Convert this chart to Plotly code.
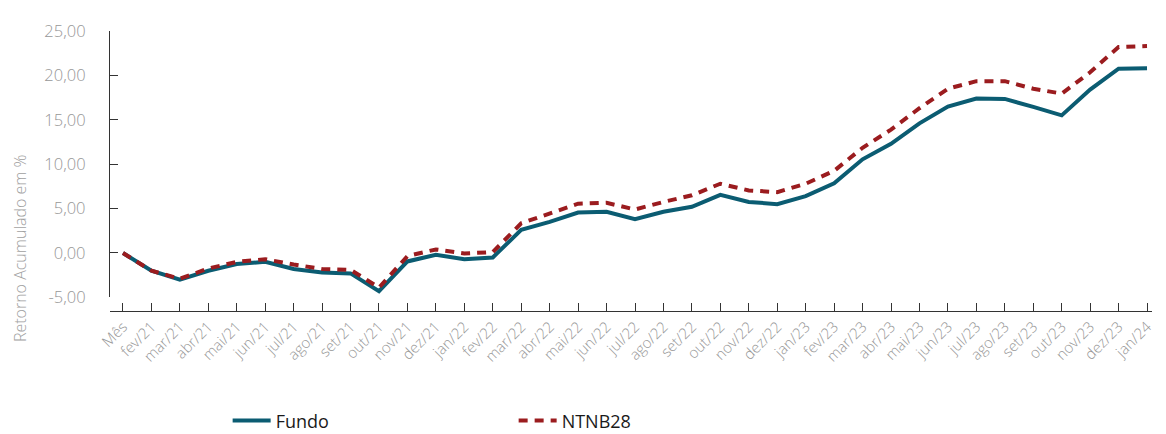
import plotly.graph_objects as go

categories = ["Mês",
    "fev/21", "mar/21", "abr/21", "mai/21", "jun/21", "jul/21", "ago/21", "set/21", "out/21", "nov/21", "dez/21",
    "jan/22", "fev/22", "mar/22", "abr/22", "mai/22", "jun/22", "jul/22", "ago/22", "set/22", "out/22", "nov/22", "dez/22",
    "jan/23", "fev/23", "mar/23", "abr/23", "mai/23", "jun/23", "jul/23", "ago/23", "set/23", "out/23", "nov/23", "dez/23",
    "jan/24"]

fundo = [0.0,
    -2.0, -3.0, -2.0, -1.25, -1.0, -1.8, -2.2, -2.3, -4.3, -0.95, -0.2,
    -0.7, -0.5, 2.6, 3.5, 4.55, 4.65, 3.8, 4.65, 5.2, 6.55, 5.75, 5.5,
    6.4, 7.85, 10.55, 12.3, 14.6, 16.5, 17.4, 17.35, 16.45, 15.5, 18.4, 20.75,
    20.8]

ntnb28 = [0.0,
    -2.0, -2.9, -1.75, -1.0, -0.7, -1.3, -1.8, -1.9, -3.9, -0.35, 0.4,
    -0.05, 0.1, 3.35, 4.45, 5.55, 5.65, 4.9, 5.75, 6.5, 7.8, 7.05, 6.85,
    7.8, 9.25, 11.85, 13.9, 16.3, 18.5, 19.35, 19.35, 18.5, 17.95, 20.35, 23.2,
    23.3]

y_ticks = [-5, 0, 5, 10, 15, 20, 25]
y_ticktext = ["-5,00", "0,00", "5,00", "10,00", "15,00", "20,00", "25,00"]

FONT = "Open Sans"
GRAY = "#979797"

fig = go.Figure()
fig.add_trace(go.Scatter(
    x=categories, y=fundo, name="Fundo", mode="lines",
    line=dict(color="#0b5c72", width=4),
))
fig.add_trace(go.Scatter(
    x=categories, y=ntnb28, name="NTNB28", mode="lines",
    line=dict(color="#9b1c1f", width=4, dash="9px,7px"),
))

# page body has an 8px margin: figure shifted accordingly; extra height below
# keeps the legend well inside the figure so margins are not auto-expanded
fig.update_layout(
    width=1158, height=520,
    margin=dict(l=102, r=11, t=15, b=217),
    paper_bgcolor="white", plot_bgcolor="white",
    font=dict(family=FONT, color=GRAY, size=16),
    showlegend=True,
    legend=dict(
        orientation="h", x=0.1129, xanchor="left",
        y=-0.3924, yanchor="middle",
        font=dict(family=FONT, size=18, color="#1a1a1a"),
        entrywidth=233, itemwidth=38, bgcolor="rgba(0,0,0,0)",
    ),
    xaxis=dict(
        type="category", range=[-0.456, 36.175],
        anchor="free", position=0,
        showline=True, linecolor="#333333", linewidth=1.3,
        ticks="inside", ticklen=8, tickcolor="#333333", tickwidth=1.3,
        tickangle=-45, tickfont=dict(family=FONT, size=15, color=GRAY, weight=300),
        showgrid=False, zeroline=False,
    ),
    yaxis=dict(
        domain=[0.0486, 1], range=[-5, 25],
        tickvals=y_ticks, ticktext=y_ticktext,
        showline=True, linecolor="#333333", linewidth=1.3,
        ticks="inside", ticklen=8, tickcolor="#333333", tickwidth=1.3,
        ticklabelstandoff=20,
        tickfont=dict(family=FONT, size=16.5, color=GRAY, weight=300),
        showgrid=False, zeroline=False,
    ),
    annotations=[dict(
        text="Retorno Acumulado em %", textangle=-90,
        xref="paper", yref="paper", x=-0.0861, y=0.2257,
        xanchor="center", yanchor="middle", showarrow=False,
        font=dict(family=FONT, size=16, color="#a0a0a0", weight=300),
    )],
)

fig.write_html("out.html")
